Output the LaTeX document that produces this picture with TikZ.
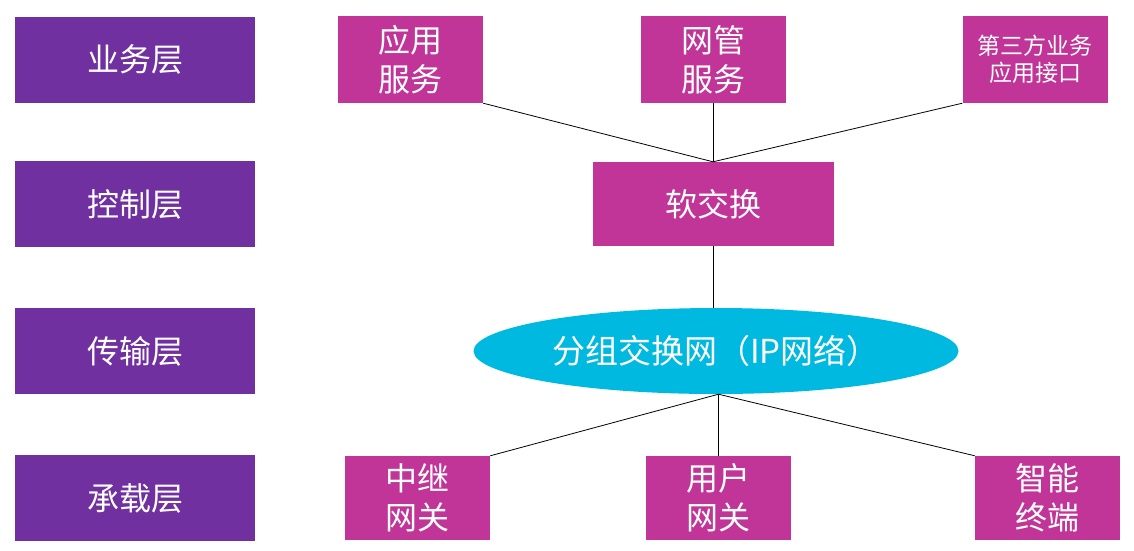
\documentclass[tikz,border=0pt]{standalone}
\usepackage{fontspec}
\setmainfont{Noto Sans CJK SC}
\usetikzlibrary{shapes.geometric,positioning,calc}
\definecolor{layerpurple}{RGB}{112,48,160}
\definecolor{boxmagenta}{RGB}{192,53,151}
\definecolor{netcyan}{RGB}{0,185,224}

\begin{document}
\begin{tikzpicture}[x=1pt,y=-1pt,
    layer/.style={fill=layerpurple, text=white, minimum width=240pt,
                  minimum height=86pt, inner sep=0pt,
                  font=\fontsize{32}{38}\selectfont},
    unit/.style={fill=boxmagenta, text=white, minimum width=145pt,
                 minimum height=87pt, inner sep=0pt, align=center,
                 font=\fontsize{32}{39}\selectfont},
    link/.style={draw=black, line width=0.8pt}]
  \useasboundingbox (0,0) rectangle (1134,550);
  % layer labels
  \node[layer] (biz)   at (135,59.5)  {业务层};
  \node[layer] (ctrl)  at (135,204)   {控制层};
  \node[layer] (trans) at (135,351)   {传输层};
  \node[layer] (bear)  at (135,498)   {承载层};
  % service layer
  \node[unit] (app)   at (410.5,59.5) {应用\\服务};
  \node[unit] (nms)   at (713,59.5)   {网管\\服务};
  \node[unit, font=\fontsize{23}{27}\selectfont]
    (third) at (1035,59.5) {第三方业务\\应用接口};
  % control layer
  \node[unit, minimum width=241pt, minimum height=84pt] (softsw) at (713,204) {软交换};
  % transport layer
  \node[ellipse, fill=netcyan, text=white, minimum width=485pt,
        minimum height=86pt, inner sep=0pt, font=\fontsize{33}{38}\selectfont]
    (ipnet) at (716,351) {分组交换网（IP网络）};
  % bearer layer
  \node[unit, minimum height=84pt] (trunk)  at (417.5,498) {中继\\网关};
  \node[unit, minimum height=84pt] (usergw) at (718.5,498) {用户\\网关};
  \node[unit, minimum height=84pt] (term)   at (1047.5,498) {智能\\终端};
  % connectors
  \draw[link] (app.south east) -- (softsw.north);
  \draw[link] (nms.south) -- (softsw.north);
  \draw[link] (third.south west) -- (softsw.north);
  \draw[link] (softsw.south) -- (softsw.south |- ipnet.north);
  \draw[link] (usergw.north |- ipnet.south) -- (trunk.north east);
  \draw[link] (usergw.north |- ipnet.south) -- (usergw.north);
  \draw[link] (usergw.north |- ipnet.south) -- (term.north west);
\end{tikzpicture}
\end{document}
